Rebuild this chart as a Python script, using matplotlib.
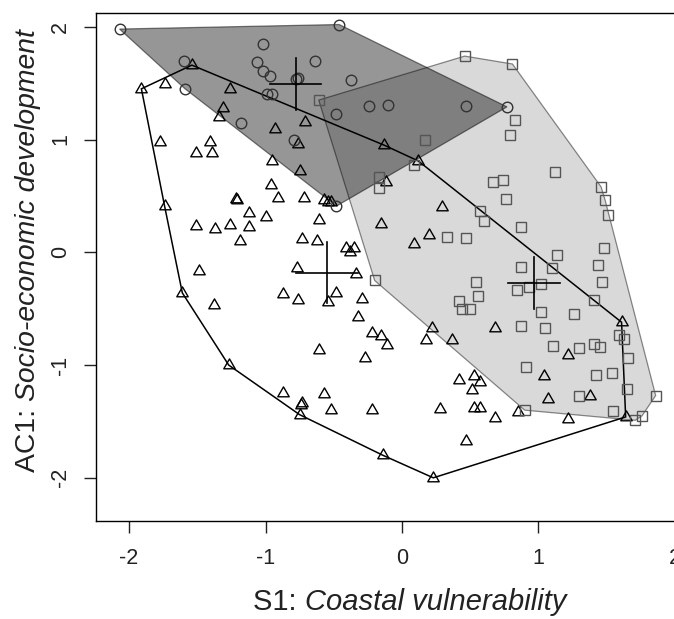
import numpy as np
import matplotlib
matplotlib.use("Agg")
import matplotlib.pyplot as plt
from matplotlib.path import Path

plt.rcParams['font.family'] = ['Liberation Sans', 'DejaVu Sans']

# group 1: circles
circ_x = [-2.07, -0.46, -1.02, -1.60, -1.06, -0.64, -1.02, -0.97, -0.78, -0.76, -0.37,
          -1.59, -0.99, -0.95, -0.24, -0.10, -0.48, -1.18, -0.79, -0.48, 0.47, 0.77]
circ_y = [1.98, 2.02, 1.85, 1.70, 1.69, 1.70, 1.61, 1.56, 1.54, 1.55, 1.53,
          1.45, 1.40, 1.40, 1.30, 1.31, 1.23, 1.15, 1.00, 0.41, 1.30, 1.29]

# group 2: squares
sq_x = [0.46, 0.81, 0.83, 0.79, 0.17, 0.09, 1.12, 0.67, 0.74, 0.76, 1.46, 1.49, 1.51,
        0.57, 0.60, 0.87, 0.33, 0.47, 1.48, 1.14, -0.61, -0.17, -0.17, 1.44, 0.87,
        1.10, 1.47, 0.54, 0.84, 0.93, 1.02, 1.41, 0.42, 0.56, 0.44, 0.50, 1.02, 1.26,
        0.87, 1.05, 1.59, 1.63, 1.11, 1.30, 1.41, 1.45, 1.66, 0.91, 1.42, 1.54, 1.65,
        1.30, 1.86, 1.55, 0.90, 1.76, 1.71, -0.20]
sq_y = [1.74, 1.67, 1.17, 1.04, 1.00, 0.77, 0.71, 0.62, 0.64, 0.47, 0.58, 0.46, 0.33,
        0.37, 0.28, 0.22, 0.14, 0.13, 0.04, -0.02, 1.35, 0.67, 0.57, -0.11, -0.13,
        -0.14, -0.26, -0.26, -0.33, -0.31, -0.28, -0.42, -0.43, -0.39, -0.50, -0.50, -0.53, -0.55,
        -0.65, -0.67, -0.73, -0.77, -0.83, -0.85, -0.81, -0.84, -0.94, -1.02, -1.09, -1.07, -1.21,
        -1.27, -1.27, -1.41, -1.40, -1.45, -1.49, -0.25]

# group 3: triangles
tri_x = [-1.91, -1.74, -1.54, -1.26, -1.31, -1.34, -0.93, -0.71, -1.77, -1.41, -1.51, -1.39,
         -0.76, -0.13, -0.95, -0.75, -0.12, -0.96, -0.91, -0.72, -1.21, -1.22, -0.57, -0.54,
         -0.52, -1.74, -1.12, -1.00, -0.61, -0.15, -1.51, -1.37, -1.26, -1.12, -1.19, -0.73,
         -0.62, -0.41, -0.35, -0.38, -1.49, -0.77, -0.34, -1.61, -1.38, -0.87, -0.76, -0.48,
         -0.54, -0.29, -0.32, -0.22, -0.15, -0.11, -0.61, -0.27, -1.27, -0.87, -0.57, -0.73,
         -0.74, -0.75, -0.52, -0.22, -0.14, 0.12, 0.29, 0.20, 0.09, 0.68, 0.22, 0.18, 0.37,
         1.61, 1.22, 1.04, 0.42, 0.53, 0.57, 0.51, 1.07, 1.38, 0.28, 0.53, 0.57, 0.68, 0.85,
         1.22, 1.64, 0.47, 0.23]
tri_y = [1.45, 1.49, 1.66, 1.45, 1.28, 1.20, 1.09, 1.16, 0.98, 0.98, 0.88, 0.88,
         0.96, 0.95, 0.81, 0.72, 0.62, 0.60, 0.48, 0.48, 0.46, 0.47, 0.46, 0.45,
         0.45, 0.41, 0.35, 0.31, 0.29, 0.25, 0.23, 0.21, 0.24, 0.22, 0.10, 0.12,
         0.10, 0.04, 0.04, 0.00, -0.17, -0.14, -0.19, -0.36, -0.47, -0.37, -0.42, -0.36,
         -0.44, -0.41, -0.57, -0.72, -0.74, -0.82, -0.87, -0.94, -1.00, -1.25, -1.26, -1.34,
         -1.35, -1.44, -1.40, -1.40, -1.80, 0.81, 0.40, 0.15, 0.07, -0.67, -0.67, -0.78, -0.78,
         -0.62, -0.91, -1.10, -1.13, -1.10, -1.15, -1.22, -1.30, -1.27, -1.39, -1.38, -1.38, -1.47, -1.42,
         -1.48, -1.46, -1.67, -2.00]

# group centres with cross half-lengths (circles, squares, triangles)
cen_x = [-0.78, 0.97, -0.55]
cen_y = [1.49, -0.27, -0.18]
half_x = [0.19, 0.19, 0.23]
half_y = [0.23, 0.23, 0.27]


def hull(x, y):
    pts = sorted(set(zip(x, y)))
    def cross(o, a, b):
        return (a[0]-o[0])*(b[1]-o[1]) - (a[1]-o[1])*(b[0]-o[0])
    lower, upper = [], []
    for p in pts:
        while len(lower) >= 2 and cross(lower[-2], lower[-1], p) <= 0:
            lower.pop()
        lower.append(p)
    for p in reversed(pts):
        while len(upper) >= 2 and cross(upper[-2], upper[-1], p) <= 0:
            upper.pop()
        upper.append(p)
    return np.array(lower[:-1] + upper[:-1])


W, H = 674, 619
fig = plt.figure(figsize=(W/100, H/100), dpi=100)
ax = fig.add_axes([95.7/W, 1-521/H, (697-95.7)/W, (521-12.7)/H])
ax.set_xlim(-2.245, 2.163)
ax.set_ylim(-2.383, 2.125)

hc = hull(circ_x, circ_y)
ax.fill(hc[:, 0], hc[:, 1], facecolor=(0, 0, 0, 0.41), edgecolor=(0, 0, 0, 0.5), lw=0.9, zorder=1)
hs = hull(sq_x, sq_y)
ax.fill(hs[:, 0], hs[:, 1], facecolor=(0, 0, 0, 0.15), edgecolor=(0, 0, 0, 0.45), lw=0.9, zorder=2)
ht = hull(tri_x, tri_y)
ax.fill(ht[:, 0], ht[:, 1], facecolor='none', edgecolor='black', lw=1.1, zorder=3)

tri_marker = Path([(-1, -0.577), (1, -0.577), (0, 1.155), (-1, -0.577)],
                  [Path.MOVETO, Path.LINETO, Path.LINETO, Path.CLOSEPOLY])
ax.plot(tri_x, tri_y, ls='none', marker=tri_marker, ms=9.5, mfc='none', mec='black', mew=1.0, zorder=5)
ax.plot(sq_x, sq_y, ls='none', marker='s', ms=6.5, mfc='none', mec='#555555', mew=1.0, zorder=5)
ax.plot(circ_x, circ_y, ls='none', marker='o', ms=7.6, mfc='none', mec='#333333', mew=1.0, zorder=5)

for cx, cy, dx, dy in zip(cen_x, cen_y, half_x, half_y):
    ax.plot([cx-dx, cx+dx], [cy, cy], color='black', lw=1.2, zorder=6)
    ax.plot([cx, cx], [cy-dy, cy+dy], color='black', lw=1.2, zorder=6)

ax.set_xticks([-2, -1, 0, 1, 2])
ax.set_yticks([-2, -1, 0, 1, 2])
ax.set_xticklabels(['-2', '-1', '0', '1', '2'])
ax.set_yticklabels(['-2', '-1', '0', '1', '2'], rotation=90, va='center')
ax.tick_params(length=8.6, width=1.0, labelsize=15.5, pad=9, colors='#222222')
ax.tick_params(axis='x', pad=11)
for s in ax.spines.values():
    s.set_linewidth(1.0)

# two-part axis labels: plain prefix, italic remainder
r = fig.canvas.get_renderer()


def two_part(prefix, rest, cx, cy, rot, size):
    a = fig.text(0, 0, prefix, fontsize=size, color='#222222')
    b = fig.text(0, 0, rest, fontsize=size, style='italic', color='#222222')
    wa = a.get_window_extent(r).width
    wb = b.get_window_extent(r).width
    start = -(wa + wb) / 2
    for t, off in ((a, start), (b, start + wa)):
        t.set_rotation(rot)
        t.set_rotation_mode('anchor')
        t.set_ha('left')
        t.set_va('center')
        if rot == 0:
            t.set_position(((cx + off) / W, 1 - cy / H))
        else:
            t.set_position((cx / W, 1 - (cy - off) / H))


two_part('S1: ', 'Coastal vulnerability', 410, 602, 0, 21)
two_part('AC1: ', 'Socio-economic development', 28, 251, 90, 20.4)

fig.savefig('out.png', dpi=100)
